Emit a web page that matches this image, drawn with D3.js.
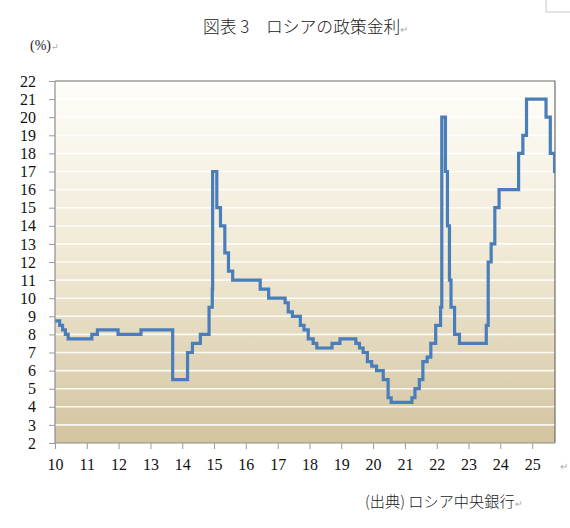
<!DOCTYPE html>
<html>
<head>
<meta charset="utf-8">
<script src="https://cdn.jsdelivr.net/npm/d3@7/dist/d3.min.js"></script>
<style>
html,body{margin:0;padding:0;background:#fff;}
svg{display:block;}
</style>
</head>
<body>
<svg id="chart" width="570" height="528"></svg>
<script>
// Dates of policy-rate changes and the rate (%) from that date
const dates = ["2010-01-01","2010-02-24","2010-03-29","2010-04-30","2010-06-01","2011-02-28","2011-05-03","2011-12-26","2012-09-14","2013-09-13",
"2014-03-03","2014-04-28","2014-07-28","2014-11-05","2014-12-12","2014-12-16","2015-02-02","2015-03-16","2015-05-05","2015-06-16",
"2015-08-03","2016-06-14","2016-09-19","2017-03-27","2017-05-02","2017-06-19","2017-09-18","2017-10-30","2017-12-18","2018-02-12",
"2018-03-26","2018-09-17","2018-12-17","2019-06-17","2019-07-29","2019-09-09","2019-10-28","2019-12-16","2020-02-10","2020-04-27",
"2020-06-22","2020-07-27","2021-03-22","2021-04-26","2021-06-15","2021-07-26","2021-09-13","2021-10-25","2021-12-20","2022-02-14",
"2022-02-28","2022-04-11","2022-05-04","2022-05-27","2022-06-14","2022-07-25","2022-09-19","2023-07-24","2023-08-15","2023-09-18",
"2023-10-30","2023-12-18","2024-07-29","2024-09-16","2024-10-28","2025-06-09","2025-07-28","2025-09-15","2025-09-20"];
const rates = [8.75,8.5,8.25,8.0,7.75,8.0,8.25,8.0,8.25,5.5,
7.0,7.5,8.0,9.5,10.5,17.0,15.0,14.0,12.5,11.5,
11.0,10.5,10.0,9.75,9.25,9.0,8.5,8.25,7.75,7.5,
7.25,7.5,7.75,7.5,7.25,7.0,6.5,6.25,6.0,5.5,
4.5,4.25,4.5,5.0,5.5,6.5,6.75,7.5,8.5,9.5,
20.0,17.0,14.0,11.0,9.5,8.0,7.5,8.5,12.0,13.0,
15.0,16.0,18.0,19.0,21.0,20.0,18.0,17.0,17.0];
const yTicks = [2,3,4,5,6,7,8,9,10,11,12,13,14,15,16,17,18,19,20,21,22];
const xTickYears = [2010,2011,2012,2013,2014,2015,2016,2017,2018,2019,2020,2021,2022,2023,2024,2025];
const title = "図表 3　ロシアの政策金利";
const unitLabel = "(%)";
const sourceLabel = "(出典) ロシア中央銀行";

const parse = d3.timeParse("%Y-%m-%d");
const data = dates.map((d,i)=>({date:parse(d), rate:rates[i]}));

const svg = d3.select("#chart");
const L=55, R=555, T=81, B=443;
const x = d3.scaleTime().domain([parse("2010-01-01"), parse("2025-09-20")]).range([L,R]);
const y = d3.scaleLinear().domain([2,22]).range([B,T]);

const defs = svg.append("defs");
const grad = defs.append("linearGradient").attr("id","bg").attr("x1",0).attr("y1",0).attr("x2",0).attr("y2",1);
grad.append("stop").attr("offset","0%").attr("stop-color","#fefdf9");
grad.append("stop").attr("offset","50%").attr("stop-color","#efe8d3");
grad.append("stop").attr("offset","100%").attr("stop-color","#d3c4a0");
defs.append("clipPath").attr("id","clip").append("rect").attr("x",L).attr("y",T).attr("width",R-L).attr("height",B-T);

// word-style corner mark
svg.append("path").attr("d","M546,0V12H570").attr("fill","none").attr("stroke","#c8c8c8").attr("stroke-width",1);

svg.append("rect").attr("x",L).attr("y",T).attr("width",R-L).attr("height",B-T).attr("fill","url(#bg)");

// gridlines
svg.append("g").selectAll("line").data(yTicks.filter(v=>v>2 && v<22)).join("line")
  .attr("x1",L).attr("x2",R).attr("y1",d=>y(d)).attr("y2",d=>y(d))
  .attr("stroke","#ffffff").attr("stroke-opacity",0.85).attr("stroke-width",1.6);

// frame top/right
svg.append("path").attr("d",`M${L},${T}H${R}V${B}`).attr("fill","none").attr("stroke","#6e6e6e").attr("stroke-width",1.2);

// line
const line = d3.line().x(d=>x(d.date)).y(d=>y(d.rate)).curve(d3.curveStepAfter);
svg.append("path").datum(data).attr("clip-path","url(#clip)")
  .attr("d",line).attr("fill","none").attr("stroke","#4a7ebb").attr("stroke-width",3.2)
  .attr("stroke-linejoin","miter");

// axes
const numFont = "'Liberation Serif','DejaVu Serif',serif";
const yAxis = svg.append("g").attr("transform",`translate(${L},0)`)
  .call(d3.axisLeft(y).tickValues(yTicks).tickSize(6).tickPadding(13).tickFormat(d3.format("d")));
const xAxis = svg.append("g").attr("transform",`translate(0,${B})`)
  .call(d3.axisBottom(x).tickValues(xTickYears.map(yy=>new Date(yy,0,1))).tickSize(6).tickPadding(10).tickFormat(d3.timeFormat("%y")));
[yAxis,xAxis].forEach(g=>{
  g.select(".domain").attr("stroke","#8c8c8c").attr("stroke-width",1.2);
  g.selectAll(".tick line").attr("stroke","#9a9a9a");
  g.selectAll("text").attr("font-family",numFont).attr("font-size",16).attr("fill","#111");
});
xAxis.select(".domain").attr("d",`M${L},0H${R}`);
yAxis.select(".domain").attr("d",`M0,${B}V${T}`);

const jp = "'Noto Sans CJK JP','Noto Sans',sans-serif";
const t = svg.append("text").attr("x",203).attr("y",33).attr("font-family",jp).attr("font-size",16.8).attr("font-weight",300).attr("fill","#222");
t.append("tspan").text(title);
t.append("tspan").attr("font-size",10).attr("fill","#aaa").text("↵");

const u = svg.append("text").attr("x",30).attr("y",50).attr("font-family",numFont).attr("font-size",14).attr("fill","#222");
u.append("tspan").text(unitLabel);
u.append("tspan").attr("font-size",9).attr("fill","#aaa").text("↵");

svg.append("text").attr("x",560).attr("y",470).attr("font-family",jp).attr("font-size",10).attr("fill","#aaa").text("↵");

const s = svg.append("text").attr("x",365).attr("y",507).attr("font-family",jp).attr("font-size",15.2).attr("font-weight",300).attr("fill","#222");
s.append("tspan").text(sourceLabel);
s.append("tspan").attr("font-size",9).attr("fill","#aaa").text("↵");
</script>
</body>
</html>
